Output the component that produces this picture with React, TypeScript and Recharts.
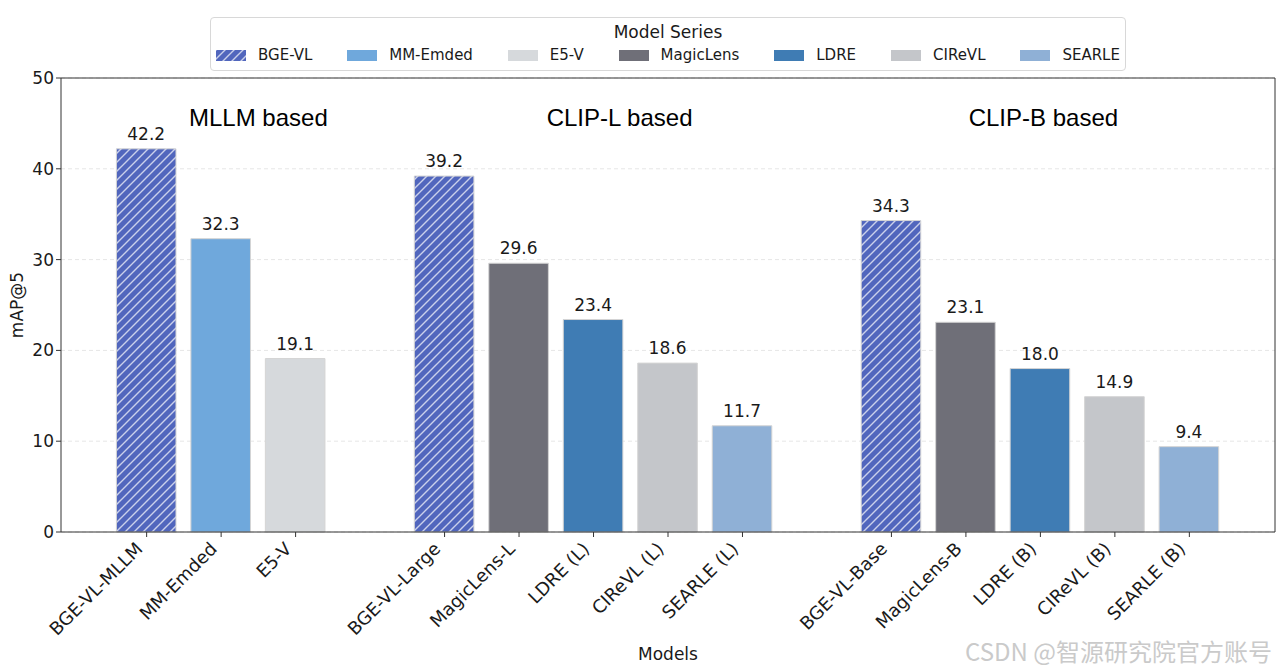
import React from 'react';
import {
  BarChart, Bar, XAxis, YAxis, CartesianGrid, Cell, LabelList, ReferenceLine, ReferenceDot,
} from 'recharts';

// ---- data ----
const tickLabels = [
  'BGE-VL-MLLM', 'MM-Emded', 'E5-V',
  'BGE-VL-Large', 'MagicLens-L', 'LDRE (L)', 'CIReVL (L)', 'SEARLE (L)',
  'BGE-VL-Base', 'MagicLens-B', 'LDRE (B)', 'CIReVL (B)', 'SEARLE (B)',
];
const positions = [0, 1, 2, 4, 5, 6, 7, 8, 10, 11, 12, 13, 14];
const values = [42.2, 32.3, 19.1, 39.2, 29.6, 23.4, 18.6, 11.7, 34.3, 23.1, 18.0, 14.9, 9.4];
const seriesOf = [
  'BGE-VL', 'MM-Emded', 'E5-V',
  'BGE-VL', 'MagicLens', 'LDRE', 'CIReVL', 'SEARLE',
  'BGE-VL', 'MagicLens', 'LDRE', 'CIReVL', 'SEARLE',
];
const legendSeries = ['BGE-VL', 'MM-Emded', 'E5-V', 'MagicLens', 'LDRE', 'CIReVL', 'SEARLE'];
const groupTitles = ['MLLM based', 'CLIP-L based', 'CLIP-B based'];
const groupTitleX = [1.5, 6.35, 12.04];
const groupTitleY = 45.7;
const yTicks = [0, 10, 20, 30, 40, 50];

// ---- styles ----
const seriesColor: Record<string, string> = {
  'BGE-VL': '#5166bd',
  'MM-Emded': '#6fa8dc',
  'E5-V': '#d6d9dc',
  'MagicLens': '#6f6f78',
  'LDRE': '#3f7cb4',
  'CIReVL': '#c4c6ca',
  'SEARLE': '#8fb0d6',
};
const HATCHED = 'BGE-VL';
const fillFor = (s: string) => (s === HATCHED ? 'url(#hatch)' : seriesColor[s]);

const W = 1280;
const H = 672;
const MARGIN = { top: 78, right: 5, bottom: 0, left: 0 };
const Y_AXIS_W = 61;
const X_AXIS_H = 140;
const X_DOMAIN: [number, number] = [-1.15, 15.15];
const plotW = W - MARGIN.left - MARGIN.right - Y_AXIS_W;
const unitPx = plotW / (X_DOMAIN[1] - X_DOMAIN[0]);
const BAR_SIZE = 0.8 * unitPx;
const HATCH_P = 9;

const TICK_FONT = "'DejaVu Sans', sans-serif";
const TXT = '#1a1a1a';

const data = positions.map((p, i) => ({
  pos: p,
  value: values[i],
  label: tickLabels[i],
  series: seriesOf[i],
}));

const XTick = (props: any) => {
  const { x, y, payload } = props;
  const idx = positions.indexOf(payload.value);
  const label = idx >= 0 ? tickLabels[idx] : '';
  const ax = x - 3;
  const ay = y + 11;
  return (
    <text
      x={ax}
      y={ay}
      transform={`rotate(-45, ${ax}, ${ay})`}
      textAnchor="end"
      fontSize={18}
      fontFamily={TICK_FONT}
      fill={TXT}
    >
      {label}
    </text>
  );
};

const YLabel = (props: any) => {
  const vb = props.viewBox || { x: 0, y: 78, width: 61, height: 454 };
  const cx = vb.x + 17;
  const cy = vb.y + vb.height / 2;
  return (
    <text
      x={cx}
      y={cy}
      transform={`rotate(-90, ${cx}, ${cy})`}
      textAnchor="middle"
      dominantBaseline="central"
      fontSize={17}
      fontFamily={TICK_FONT}
      fill={TXT}
    >
      mAP@5
    </text>
  );
};

const HatchDefs = ({ id }: { id: string }) => {
  const p = HATCH_P;
  const q = p / 4;
  return (
    <defs>
      <pattern id={id} patternUnits="userSpaceOnUse" width={p} height={p}>
        <rect x={0} y={0} width={p} height={p} fill={seriesColor[HATCHED]} />
        <path
          d={`M${-q},${q} L${q},${-q} M0,${p} L${p},0 M${p - q},${p + q} L${p + q},${p - q}`}
          stroke="rgba(215,220,240,0.9)"
          strokeWidth={1.4}
        />
      </pattern>
    </defs>
  );
};

const Legend = () => (
  <div
    style={{
      position: 'absolute',
      left: 210,
      top: 17,
      width: 916,
      height: 54,
      boxSizing: 'border-box',
      border: '1px solid #d8d8d8',
      borderRadius: 4,
      background: 'rgba(255,255,255,0.9)',
      fontFamily: TICK_FONT,
      color: TXT,
    }}
  >
    <div style={{ textAlign: 'center', fontSize: 17, lineHeight: '20px', marginTop: 4 }}>Model Series</div>
    <div
      style={{
        display: 'flex',
        justifyContent: 'space-between',
        alignItems: 'center',
        padding: '0 5px',
        marginTop: 4,
        fontSize: 15,
        lineHeight: '18px',
      }}
    >
      {legendSeries.map((s) => (
        <div key={s} style={{ display: 'flex', alignItems: 'center' }}>
          <svg width={30} height={11} style={{ marginRight: 12, display: 'block' }}>
            {s === HATCHED && <HatchDefs id="hatchLegend" />}
            <rect
              x={0}
              y={0}
              width={30}
              height={11}
              fill={s === HATCHED ? 'url(#hatchLegend)' : seriesColor[s]}
            />
          </svg>
          <span>{s}</span>
        </div>
      ))}
    </div>
  </div>
);

export default function App() {
  return (
    <div style={{ position: 'absolute', left: 0, top: 0, width: W, height: H, background: '#fff' }}>
      <BarChart width={W} height={H} data={data} margin={MARGIN}>
        <HatchDefs id="hatch" />
        <CartesianGrid vertical={false} stroke="#e6e6e6" strokeDasharray="4 3" />
        <XAxis
          type="number"
          dataKey="pos"
          domain={X_DOMAIN}
          ticks={positions}
          interval={0}
          allowDataOverflow
          height={X_AXIS_H}
          tickSize={5}
          tickLine={{ stroke: '#333' }}
          axisLine={{ stroke: '#333' }}
          tick={<XTick />}
          label={{
            value: 'Models',
            position: 'insideBottom',
            offset: 12,
            fontSize: 17,
            fontFamily: TICK_FONT,
            fill: TXT,
          }}
        />
        <YAxis
          type="number"
          domain={[0, 50]}
          ticks={yTicks}
          width={Y_AXIS_W}
          tickSize={5}
          tickLine={{ stroke: '#333' }}
          axisLine={{ stroke: '#333' }}
          tick={{ fontSize: 17, fontFamily: TICK_FONT, fill: TXT }}
          label={<YLabel />}
        />
        <ReferenceLine y={50} stroke="#333" ifOverflow="extendDomain" />
        <ReferenceLine x={X_DOMAIN[1]} stroke="#333" ifOverflow="extendDomain" />
        <Bar dataKey="value" barSize={BAR_SIZE} isAnimationActive={false} stroke="#d4d4d4" strokeWidth={1}>
          {data.map((d, i) => (
            <Cell key={i} fill={fillFor(d.series)} />
          ))}
          <LabelList
            dataKey="value"
            position="top"
            offset={9}
            fontSize={17}
            fontFamily={TICK_FONT}
            fill={TXT}
            formatter={(v: any) => Number(v).toFixed(1)}
          />
        </Bar>
        {groupTitles.map((t, i) => (
          <ReferenceDot
            key={t}
            x={groupTitleX[i]}
            y={groupTitleY}
            r={0}
            fill="none"
            stroke="none"
            label={{
              value: t,
              position: 'center',
              fontSize: 24,
              fontFamily: "'Liberation Sans', Arial, sans-serif",
              fill: '#000',
            }}
          />
        ))}
      </BarChart>
      <Legend />
      <div
        style={{
          position: 'absolute',
          right: 8,
          top: 636,
          fontSize: 24,
          lineHeight: '30px',
          fontFamily: "'Noto Sans CJK SC', 'Liberation Sans', sans-serif",
          color: '#cacaca',
          whiteSpace: 'nowrap',
        }}
      >
        CSDN @智源研究院官方账号
      </div>
    </div>
  );
}
